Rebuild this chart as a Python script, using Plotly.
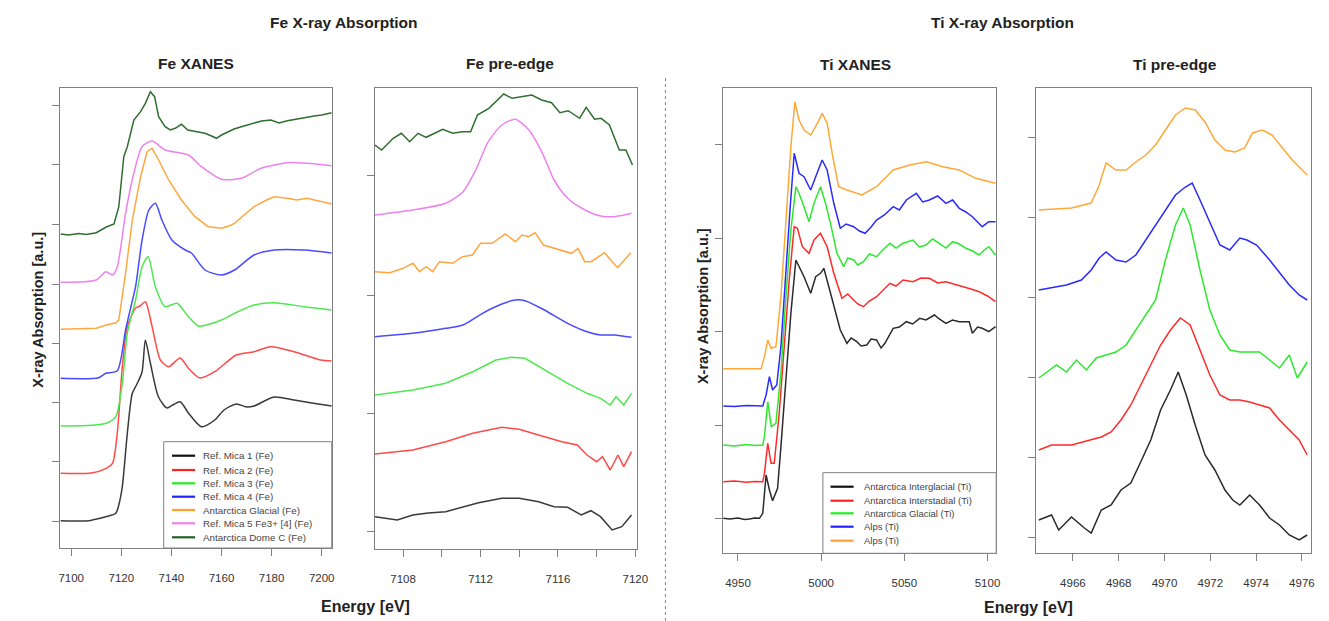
import plotly.graph_objects as go

W, H = 1329, 621

# ---------------- Fe XANES (energy eV, absorption a.u. incl. offset) ----------------
fe_x_mica1_e = [7095.7, 7104, 7107, 7112, 7115, 7117.8, 7119, 7120.4, 7122.4, 7124.4, 7126.4, 7128.3, 7129.6,
                7131.6, 7134.8, 7138.2, 7140.5, 7143.5, 7146.8, 7152, 7157.3, 7161, 7165.9, 7170, 7173, 7181,
                7189, 7196, 7204]
fe_x_mica1_v = [0.393, 0.39, 0.393, 0.42, 0.44, 0.467, 0.55, 0.733, 1.267, 1.667, 1.767, 1.883, 2.2,
                1.97, 1.633, 1.52, 1.55, 1.583, 1.47, 1.333, 1.40, 1.50, 1.56, 1.53, 1.54, 1.63,
                1.60, 1.57, 1.54]

fe_x_mica2_e = [7095.7, 7108, 7114, 7116.5, 7118.4, 7120.4, 7122.4, 7125.7, 7127.5, 7129.6, 7132.3, 7135.6,
                7138.9, 7143.5, 7146.7, 7151.4, 7157.3, 7165.9, 7173, 7179.7, 7189, 7199.5, 7204]
fe_x_mica2_v = [0.867, 0.87, 0.917, 0.967, 1.27, 1.93, 2.33, 2.52, 2.54, 2.583, 2.333, 2.00,
                1.933, 2.02, 1.92, 1.82, 1.883, 2.05, 2.083, 2.133, 2.083, 2.00, 1.99]

fe_x_mica3_e = [7095.7, 7108, 7114, 7117.8, 7120.4, 7122.4, 7125.7, 7128.3, 7130.7, 7133.6, 7137.5, 7142.2,
                7146.8, 7150.7, 7154, 7160, 7166.5, 7173, 7181, 7193, 7204]
fe_x_mica3_v = [1.34, 1.347, 1.367, 1.433, 1.77, 2.27, 2.60, 2.933, 3.033, 2.733, 2.533, 2.567,
                2.433, 2.34, 2.35, 2.40, 2.483, 2.55, 2.573, 2.533, 2.50]

fe_x_mica4_e = [7095.7, 7111, 7113.8, 7118.4, 7121.7, 7124, 7125.7, 7128.3, 7131, 7133.6, 7136.2, 7140.2,
                7145.5, 7148, 7153.4, 7160, 7165.2, 7173, 7181, 7193, 7204]
fe_x_mica4_v = [1.817, 1.823, 1.867, 1.893, 2.30, 2.55, 2.733, 3.20, 3.50, 3.567, 3.40, 3.20,
                3.10, 3.07, 2.90, 2.85, 2.90, 3.05, 3.10, 3.10, 3.07]

fe_x_glacial_e = [7095.7, 7110, 7114, 7117.8, 7119, 7121.7, 7124.4, 7127.7, 7130.3, 7132.3, 7134.9, 7138.9,
                  7144, 7149.4, 7154.7, 7160, 7163, 7165.2, 7169, 7173, 7178, 7181, 7186.3, 7190, 7194.2,
                  7199, 7204]
fe_x_glacial_v = [2.307, 2.317, 2.35, 2.373, 2.40, 2.87, 3.40, 3.833, 4.083, 4.117, 4.00, 3.80,
                  3.60, 3.433, 3.333, 3.317, 3.34, 3.367, 3.45, 3.533, 3.60, 3.633, 3.617, 3.60, 3.617,
                  3.59, 3.56]

fe_x_mica5_e = [7095.7, 7110, 7113.8, 7116.5, 7118.4, 7121.7, 7125, 7128.3, 7132.3, 7137.5, 7146.8, 7152,
                7160, 7167.9, 7175.8, 7186.3, 7194.2, 7204]
fe_x_mica5_v = [2.777, 2.80, 2.883, 2.85, 2.933, 3.467, 3.867, 4.133, 4.19, 4.10, 4.05, 3.933,
                3.807, 3.817, 3.917, 3.973, 3.967, 3.943]

fe_x_domec_e = [7095.7, 7099, 7103, 7106, 7110, 7113.8, 7117.1, 7119, 7121, 7122.4, 7125, 7127.7, 7129.6,
                7131.6, 7133.3, 7134.9, 7137.5, 7139.5, 7141.5, 7144, 7146.5, 7149.4, 7153.4, 7156, 7158,
                7160, 7162.6, 7165, 7167.9, 7170.5, 7173, 7176, 7179.7, 7183, 7186.3, 7190, 7194.2, 7197,
                7200, 7204]
fe_x_domec_v = [3.26, 3.25, 3.265, 3.255, 3.273, 3.327, 3.36, 3.533, 4.033, 4.133, 4.40, 4.483, 4.567,
                4.683, 4.633, 4.433, 4.333, 4.30, 4.317, 4.357, 4.30, 4.283, 4.267, 4.24, 4.217,
                4.25, 4.283, 4.31, 4.333, 4.35, 4.367, 4.39, 4.40, 4.37, 4.393, 4.41, 4.433, 4.44,
                4.45, 4.473]

# ---------------- Fe pre-edge ----------------
fe_p_mica1_e = [7106.55, 7107.7, 7108.5, 7109.3, 7110.2, 7111.1, 7111.9, 7113.1, 7114, 7115, 7115.8, 7116.5,
                7117.2, 7117.7, 7118.2, 7118.8, 7119.3, 7119.8]
fe_p_mica1_v = [0.433, 0.40, 0.45, 0.47, 0.483, 0.533, 0.573, 0.617, 0.617, 0.583, 0.533, 0.527,
                0.45, 0.493, 0.433, 0.30, 0.333, 0.45]

fe_p_mica2_e = [7106.55, 7108.5, 7110.2, 7111.6, 7113.1, 7114, 7115, 7116.2, 7117, 7117.5, 7118, 7118.3,
                7118.7, 7119.1, 7119.4, 7119.8]
fe_p_mica2_v = [1.06, 1.10, 1.183, 1.267, 1.327, 1.307, 1.25, 1.183, 1.15, 1.05, 0.983, 1.033,
                0.90, 1.05, 0.933, 1.083]

fe_p_mica3_e = [7106.55, 7108.5, 7110.2, 7111.6, 7112.8, 7113.6, 7114.3, 7115.3, 7116.5, 7117.5, 7118.2,
                7118.7, 7119.0, 7119.4, 7119.8]
fe_p_mica3_v = [1.65, 1.70, 1.767, 1.883, 2.00, 2.027, 2.017, 1.90, 1.767, 1.667, 1.617,
                1.55, 1.633, 1.55, 1.667]

fe_p_mica4_e = [7106.55, 7108.5, 7110.2, 7111.1, 7112.1, 7113.1, 7113.8, 7114.3, 7115.3, 7116.5, 7117.5,
                7118.2, 7118.9, 7119.8]
fe_p_mica4_v = [2.233, 2.267, 2.317, 2.35, 2.467, 2.56, 2.60, 2.593, 2.50, 2.367, 2.283,
                2.25, 2.25, 2.227]

fe_p_glacial_e = [7106.55, 7107.32, 7108.0, 7108.51, 7108.85, 7109.19, 7109.53, 7109.88, 7110.56, 7111.07,
                  7111.58, 7112.0, 7112.6, 7113.28, 7113.8, 7114.14, 7114.48, 7114.82, 7115.25, 7115.84,
                  7116.18, 7116.7, 7117.04, 7117.38, 7117.72, 7118.4, 7119.08, 7119.77]
fe_p_glacial_v = [2.883, 2.873, 2.917, 2.967, 2.883, 2.933, 2.883, 2.983, 2.967, 3.033,
                  3.05, 3.167, 3.167, 3.26, 3.183, 3.25, 3.233, 3.273, 3.15, 3.117,
                  3.10, 3.067, 3.117, 2.983, 2.983, 3.073, 2.923, 3.073]

fe_p_mica5_e = [7106.55, 7108.5, 7110.2, 7111.1, 7111.75, 7112.4, 7113.1, 7113.8, 7114.5, 7115.2, 7115.8,
                7116.5, 7117.4, 7118.2, 7118.9, 7119.8]
fe_p_mica5_v = [3.45, 3.50, 3.567, 3.683, 3.90, 4.183, 4.35, 4.407, 4.30, 4.067, 3.80,
                3.617, 3.50, 3.44, 3.433, 3.467]

fe_p_domec_e = [7106.55, 7106.89, 7107.49, 7107.91, 7108.34, 7108.77, 7109.19, 7110.05, 7110.56, 7111.07,
                7111.49, 7111.84, 7112.43, 7113.2, 7113.63, 7114.14, 7114.65, 7115.16, 7115.67, 7116.1,
                7116.53, 7117.12, 7117.46, 7117.89, 7118.23, 7118.66, 7119.17, 7119.51, 7119.85]
fe_p_domec_v = [4.15, 4.10, 4.217, 4.267, 4.183, 4.267, 4.227, 4.307, 4.267, 4.283,
                4.283, 4.45, 4.517, 4.66, 4.617, 4.633, 4.65, 4.60, 4.573, 4.473,
                4.493, 4.417, 4.527, 4.407, 4.417, 4.35, 4.10, 4.10, 3.95]

# ---------------- Ti XANES ----------------
ti_x_intergl_e = [4941.1, 4945, 4950, 4954, 4957, 4960, 4962.9, 4964.9, 4966.9, 4968.9, 4970.8, 4973.8, 4975.8,
                  4978.8, 4981.8, 4984.8, 4986.7, 4989.7, 4993.7, 4996.7, 4999.6, 5001.6, 5004.6, 5007.6,
                  5011.5, 5015.5, 5018, 5021.4, 5024, 5027.4, 5030, 5033.3, 5036, 5038.3, 5043.3, 5047,
                  5051.2, 5055, 5059.2, 5063, 5068.1, 5071, 5075, 5079, 5083, 5089, 5090.9, 5094, 5096.8,
                  5100.8, 5104.8]
ti_x_intergl_v = [0.417, 0.41, 0.42, 0.405, 0.41, 0.42, 0.417, 0.467, 0.85, 0.70, 0.593, 0.717, 1.133,
                  1.80, 2.467, 3.00, 2.933, 2.833, 2.667, 2.833, 2.867, 2.917, 2.733, 2.533,
                  2.30, 2.167, 2.22, 2.183, 2.14, 2.15, 2.21, 2.20, 2.12, 2.167, 2.317, 2.33,
                  2.383, 2.36, 2.417, 2.40, 2.45, 2.41, 2.367, 2.40, 2.383, 2.383, 2.267, 2.33, 2.317,
                  2.283, 2.333]

ti_x_interst_e = [4941.1, 4948, 4955, 4960, 4964.9, 4965.9, 4967.9, 4969.9, 4971.8, 4974.8, 4977.8, 4980.8,
                  4983.8, 4985.7, 4988.7, 4992.7, 4995.7, 4999.6, 5003.6, 5007.6, 5012.5, 5016, 5019.5,
                  5022, 5025.4, 5029, 5033.3, 5037, 5041.3, 5045, 5049.2, 5055.2, 5060, 5065.1, 5070,
                  5075, 5080, 5085, 5090, 5094.9, 5100, 5104.8]
ti_x_interst_v = [0.783, 0.79, 0.778, 0.785, 0.783, 0.867, 1.167, 0.967, 0.967, 1.467, 2.133, 2.80,
                  3.333, 3.317, 3.133, 3.067, 3.20, 3.267, 3.133, 2.867, 2.617, 2.66, 2.60,
                  2.56, 2.533, 2.59, 2.633, 2.70, 2.767, 2.74, 2.80, 2.783, 2.82, 2.817, 2.77,
                  2.783, 2.76, 2.733, 2.71, 2.683, 2.64, 2.583]

ti_x_glacial_e = [4941.1, 4948, 4955, 4960, 4964.9, 4965.9, 4967.9, 4970.0, 4972.8, 4975.8, 4978.8, 4981.8,
                  4984.8, 4986.7, 4989.7, 4992.7, 4995.7, 4999.6, 5002.6, 5005.6, 5009.5, 5013.5, 5016,
                  5019.5, 5022, 5025.4, 5029, 5033.3, 5037, 5041.3, 5045, 5049.2, 5055.2, 5059, 5063,
                  5067, 5071, 5075, 5079, 5083, 5087, 5091, 5094.9, 5098, 5100.8, 5104.8]
ti_x_glacial_v = [1.15, 1.14, 1.155, 1.145, 1.15, 1.233, 1.583, 1.333, 1.367, 1.867, 2.633, 3.30,
                  3.733, 3.667, 3.533, 3.383, 3.567, 3.733, 3.567, 3.367, 3.067, 2.933, 3.02,
                  3.00, 2.95, 2.983, 3.06, 3.033, 3.10, 3.167, 3.12, 3.167, 3.20, 3.13, 3.15,
                  3.21, 3.167, 3.12, 3.183, 3.16, 3.117, 3.09, 3.05, 3.10, 3.133, 3.05]

ti_x_alps1_e = [4941.1, 4948, 4955, 4960, 4964.9, 4966.9, 4968.9, 4970.8, 4973.3, 4975.8, 4978.8, 4981.4,
                4983.8, 4986.7, 4989.7, 4993.7, 4996.7, 5000.6, 5003.6, 5007.6, 5011.5, 5015, 5019.5,
                5023, 5026.4, 5030, 5033.3, 5038, 5043.3, 5047, 5051.2, 5057.2, 5061, 5065, 5070, 5075,
                5079, 5083, 5087, 5090.9, 5096.8, 5100.8, 5104.8]
ti_x_alps1_v = [1.54, 1.535, 1.545, 1.54, 1.54, 1.65, 1.833, 1.70, 1.75, 2.133, 2.933, 3.533,
                4.067, 3.867, 3.833, 3.70, 3.833, 4.00, 3.90, 3.567, 3.317, 3.36, 3.333,
                3.29, 3.267, 3.33, 3.40, 3.45, 3.533, 3.50, 3.60, 3.667, 3.58, 3.60, 3.64, 3.567,
                3.60, 3.517, 3.48, 3.433, 3.333, 3.383, 3.383]

ti_x_alps2_e = [4941.1, 4950, 4958, 4963.9, 4965.9, 4967.9, 4969.9, 4972.8, 4975.8, 4978.8, 4981.8, 4984.2,
                4986.7, 4989.7, 4993.7, 4997.7, 5000.6, 5003.6, 5006.6, 5010.5, 5015.5, 5024.4, 5033.3,
                5043.3, 5053.2, 5063.2, 5073.1, 5083, 5092.9, 5104.8]
ti_x_alps2_v = [1.913, 1.913, 1.91, 1.913, 2.033, 2.20, 2.117, 2.133, 2.633, 3.40, 4.133, 4.583,
                4.40, 4.30, 4.25, 4.367, 4.467, 4.367, 4.067, 3.733, 3.70, 3.65, 3.733,
                3.90, 3.95, 3.983, 3.933, 3.90, 3.817, 3.767]

# ---------------- Ti pre-edge ----------------
ti_p_intergl_e = [4964.51, 4965.07, 4965.38, 4965.94, 4966.5, 4966.8, 4967.24, 4967.67, 4968.1, 4968.53,
                  4968.96, 4969.4, 4969.83, 4970.26, 4970.6, 4970.95, 4971.34, 4971.77, 4972.2, 4972.64,
                  4972.98, 4973.29, 4973.72, 4974.15, 4974.59, 4975.02, 4975.45, 4975.88, 4976.23]
ti_p_intergl_v = [0.40, 0.45, 0.30, 0.43, 0.32, 0.27, 0.50, 0.55, 0.70, 0.77,
                  0.98, 1.20, 1.50, 1.70, 1.88, 1.65, 1.35, 1.05, 0.90, 0.70,
                  0.60, 0.55, 0.65, 0.55, 0.42, 0.35, 0.25, 0.20, 0.25]

ti_p_interst_e = [4964.51, 4965.07, 4965.94, 4966.8, 4967.24, 4967.67, 4968.1, 4968.53, 4968.96, 4969.4,
                  4969.83, 4970.26, 4970.69, 4971.12, 4971.55, 4971.98, 4972.42, 4972.85, 4973.29, 4973.72,
                  4974.15, 4974.59, 4975.02, 4975.45, 4975.88, 4976.23]
ti_p_interst_v = [1.10, 1.15, 1.15, 1.20, 1.23, 1.28, 1.40, 1.55, 1.75, 1.95,
                  2.15, 2.30, 2.42, 2.35, 2.10, 1.85, 1.65, 1.60, 1.60, 1.58,
                  1.55, 1.52, 1.40, 1.30, 1.20, 1.05]

ti_p_glacial_e = [4964.51, 4964.86, 4965.29, 4965.72, 4966.16, 4966.59, 4967.02, 4967.45, 4967.88, 4968.32,
                  4968.75, 4969.18, 4969.61, 4970.04, 4970.48, 4970.82, 4971.12, 4971.55, 4971.98, 4972.42,
                  4972.85, 4973.29, 4973.72, 4974.15, 4974.59, 4975.02, 4975.45, 4975.8, 4976.23]
ti_p_glacial_v = [1.82, 1.88, 1.95, 1.88, 2.00, 1.90, 2.02, 2.05, 2.08, 2.15,
                  2.30, 2.45, 2.60, 3.00, 3.35, 3.52, 3.35, 2.90, 2.50, 2.25,
                  2.10, 2.08, 2.08, 2.08, 2.00, 1.92, 2.05, 1.82, 1.98]

ti_p_alps1_e = [4964.51, 4965.07, 4965.72, 4966.37, 4966.8, 4967.15, 4967.45, 4967.88, 4968.32, 4968.75,
                4969.18, 4969.61, 4970.04, 4970.48, 4970.91, 4971.21, 4971.55, 4971.98, 4972.42, 4972.85,
                4973.29, 4973.6, 4974.02, 4974.59, 4975.02, 4975.45, 4975.88, 4976.23]
ti_p_alps1_v = [2.70, 2.72, 2.75, 2.80, 2.90, 3.02, 3.08, 3.00, 2.98, 3.05,
                3.20, 3.35, 3.50, 3.65, 3.73, 3.77, 3.60, 3.38, 3.15, 3.10,
                3.22, 3.20, 3.15, 3.00, 2.88, 2.75, 2.65, 2.60]

ti_p_alps2_e = [4964.51, 4965.94, 4966.8, 4967.15, 4967.45, 4967.88, 4968.32, 4968.75, 4969.18, 4969.61,
                4970.04, 4970.48, 4970.91, 4971.34, 4971.77, 4972.2, 4972.64, 4973.07, 4973.5, 4973.84,
                4974.27, 4974.7, 4975.15, 4975.58, 4976.01, 4976.23]
ti_p_alps2_v = [3.50, 3.52, 3.57, 3.75, 3.97, 3.90, 3.90, 3.98, 4.05, 4.15,
                4.30, 4.45, 4.52, 4.50, 4.38, 4.20, 4.10, 4.08, 4.12, 4.27,
                4.30, 4.25, 4.12, 4.00, 3.90, 3.85]

# ---------------- labels ----------------
fe_labels = ["Ref. Mica 1 (Fe)", "Ref. Mica 2 (Fe)", "Ref. Mica 3 (Fe)", "Ref. Mica 4 (Fe)",
             "Antarctica Glacial (Fe)", "Ref. Mica 5 Fe3+ [4] (Fe)", "Antarctica Dome C (Fe)"]
ti_labels = ["Antarctica Interglacial (Ti)", "Antarctica Interstadial (Ti)", "Antarctica Glacial (Ti)",
             "Alps (Ti)", "Alps (Ti)"]

fe_colors = ["#3a3a3a", "#ff4a4a", "#4ee84e", "#4a4aff", "#ffa640", "#ee82ee", "#2f6e2f"]
ti_colors = ["#2a2a2a", "#ff2a2a", "#2ee82e", "#2a2aff", "#ffa838"]

fe_xanes = [(fe_x_mica1_e, fe_x_mica1_v), (fe_x_mica2_e, fe_x_mica2_v), (fe_x_mica3_e, fe_x_mica3_v),
            (fe_x_mica4_e, fe_x_mica4_v), (fe_x_glacial_e, fe_x_glacial_v), (fe_x_mica5_e, fe_x_mica5_v),
            (fe_x_domec_e, fe_x_domec_v)]
fe_pre = [(fe_p_mica1_e, fe_p_mica1_v), (fe_p_mica2_e, fe_p_mica2_v), (fe_p_mica3_e, fe_p_mica3_v),
          (fe_p_mica4_e, fe_p_mica4_v), (fe_p_glacial_e, fe_p_glacial_v), (fe_p_mica5_e, fe_p_mica5_v),
          (fe_p_domec_e, fe_p_domec_v)]
ti_xanes = [(ti_x_intergl_e, ti_x_intergl_v), (ti_x_interst_e, ti_x_interst_v), (ti_x_glacial_e, ti_x_glacial_v),
            (ti_x_alps1_e, ti_x_alps1_v), (ti_x_alps2_e, ti_x_alps2_v)]
ti_pre = [(ti_p_intergl_e, ti_p_intergl_v), (ti_p_interst_e, ti_p_interst_v), (ti_p_glacial_e, ti_p_glacial_v),
          (ti_p_alps1_e, ti_p_alps1_v), (ti_p_alps2_e, ti_p_alps2_v)]

# which curves are smooth (spline) vs noisy (straight segments)
fe_xanes_smooth = [True, True, True, True, False, True, False]
fe_pre_smooth = [False, False, False, True, False, True, False]

fig = go.Figure()


def add_set(curves, colors, labels, xa, ya, smooth=None):
    smooth = smooth or [False] * len(curves)
    for (e, v), c, lab, sm in zip(curves, colors, labels, smooth):
        ln = dict(color=c, width=1.5)
        if sm:
            ln.update(shape="spline", smoothing=0.7)
        fig.add_trace(go.Scatter(x=e, y=v, mode="lines", name=lab, showlegend=False, line=ln,
                                 xaxis=xa, yaxis=ya, hoverinfo="x+y+name"))


add_set(fe_xanes, fe_colors, fe_labels, "x", "y", fe_xanes_smooth)
add_set(fe_pre, fe_colors, fe_labels, "x2", "y2", fe_pre_smooth)
add_set(ti_xanes, ti_colors, ti_labels, "x3", "y3")
add_set(ti_pre, ti_colors, ti_labels, "x4", "y4")


def X(px):
    return px / W


def Y(py):
    return 1 - py / H


FONT = "Liberation Sans, Arial, sans-serif"
tickfont = dict(family=FONT, size=11.5, color="#333")
axcommon = dict(showline=True, mirror=True, linecolor="#808080", linewidth=1, ticks="outside",
                ticklen=7, tickcolor="#808080", showgrid=False, zeroline=False, tickfont=tickfont,
                ticklabelstandoff=12, fixedrange=True)

fig.update_layout(
    width=W, height=H, margin=dict(l=0, r=0, t=0, b=0),
    paper_bgcolor="white", plot_bgcolor="white", showlegend=False,
    xaxis=dict(domain=[X(59), X(333)], range=[7095.7, 7204], tickvals=[7100, 7120, 7140, 7160, 7180, 7200],
               anchor="y", **axcommon),
    yaxis=dict(domain=[Y(548), Y(88)], range=[0.12, 4.72],
               tickvals=[0.383, 0.983, 1.577, 2.167, 2.76, 3.36, 3.957, 4.55], showticklabels=False,
               anchor="x", **axcommon),
    xaxis2=dict(domain=[X(376.7), X(641)], range=[7106.55, 7120.07],
                tickvals=[7108, 7110, 7112, 7114, 7116, 7118, 7120],
                ticktext=["7108", "", "7112", "", "7116", "", "7120"], anchor="y2", **axcommon),
    yaxis2=dict(domain=[Y(549), Y(88.3)], range=[0.11, 4.717], tickvals=[0.283, 1.467, 2.65, 3.843],
                showticklabels=False, anchor="x2", **axcommon),
    xaxis3=dict(domain=[X(728.3), X(1004)], range=[4941.1, 5105.2], tickvals=[4950, 5000, 5050, 5100],
                anchor="y3", **axcommon),
    yaxis3=dict(domain=[Y(553.3), Y(88.3)], range=[0.067, 4.717],
                tickvals=[0.417, 1.35, 2.283, 3.22, 4.157], showticklabels=False, anchor="x3", **axcommon),
    xaxis4=dict(domain=[X(1044), X(1322)], range=[4964.38, 4976.4],
                tickvals=[4966, 4968, 4970, 4972, 4974, 4976], anchor="y4", **axcommon),
    yaxis4=dict(domain=[Y(553.3), Y(88.3)], range=[0.067, 4.717],
                tickvals=[0.23, 1.03, 1.83, 2.63, 3.43, 4.23], showticklabels=False, anchor="x4", **axcommon),
)

bold = dict(family=FONT, size=14, color="#222")
texts = [
    ("<b>Fe X-ray Absorption</b>", 345, 22, 15.5),
    ("<b>Fe XANES</b>", 196, 63, 15.5),
    ("<b>Fe pre-edge</b>", 513, 63, 15.5),
    ("<b>Ti X-ray Absorption</b>", 1010, 23, 15.5),
    ("<b>Ti XANES</b>", 862, 64, 15.5),
    ("<b>Ti pre-edge</b>", 1185, 64, 15.5),
    ("<b>Energy [eV]</b>", 367, 606, 16),
    ("<b>Energy [eV]</b>", 1037, 607, 16),
]
for t, px, py, s in texts:
    fig.add_annotation(text=t, x=X(px), y=Y(py), xref="paper", yref="paper", showarrow=False,
                       xanchor="center", yanchor="middle", font=dict(bold, size=s))
for px, py in [(36, 310), (708, 306)]:
    fig.add_annotation(text="<b>X-ray Absorption [a.u.]</b>", x=X(px), y=Y(py), xref="paper", yref="paper",
                       showarrow=False, textangle=-90, xanchor="center", yanchor="middle",
                       font=dict(bold, size=14.5))

# dotted separator between Fe and Ti halves
fig.add_shape(type="line", xref="paper", yref="paper", x0=X(670), x1=X(670), y0=0, y1=Y(78),
              line=dict(color="#888", width=1, dash="dot"))


def legend_box(labels, colors, x0, x1, y0, y1, line_x0, line_x1, text_x, rows, fsize):
    fig.add_shape(type="rect", xref="paper", yref="paper", x0=X(x0), x1=X(x1), y0=Y(y1), y1=Y(y0),
                  line=dict(color="#808080", width=1), fillcolor="white", layer="above")
    for lab, c, ry in zip(labels, colors, rows):
        fig.add_shape(type="line", xref="paper", yref="paper", x0=X(line_x0), x1=X(line_x1), y0=Y(ry),
                      y1=Y(ry), line=dict(color=c, width=2.2), layer="above")
        fig.add_annotation(text=lab, x=X(text_x), y=Y(ry), xref="paper", yref="paper", showarrow=False,
                           xanchor="left", yanchor="middle",
                           font=dict(family=FONT, size=fsize, color="#444"))


legend_box(fe_labels, ["#111", "#ff2020", "#22ee22", "#2222ff", "#ffa030", "#ee82ee", "#256025"],
           163.3, 333, 441.7, 548, 171.7, 195, 201, [455.7, 470, 483.3, 496.7, 510, 523.3, 537.3], 9.8)
legend_box(ti_labels, ["#111", "#ff2020", "#22ee22", "#2222ff", "#ffa030"],
           829, 1004, 472.7, 553.3, 836.7, 860, 868, [486.7, 500.7, 513.3, 526.7, 540.7], 9.5)

fig.write_html("out.html", config={"displayModeBar": False},
               post_script="document.body.style.margin='0';document.body.style.overflow='hidden';")
